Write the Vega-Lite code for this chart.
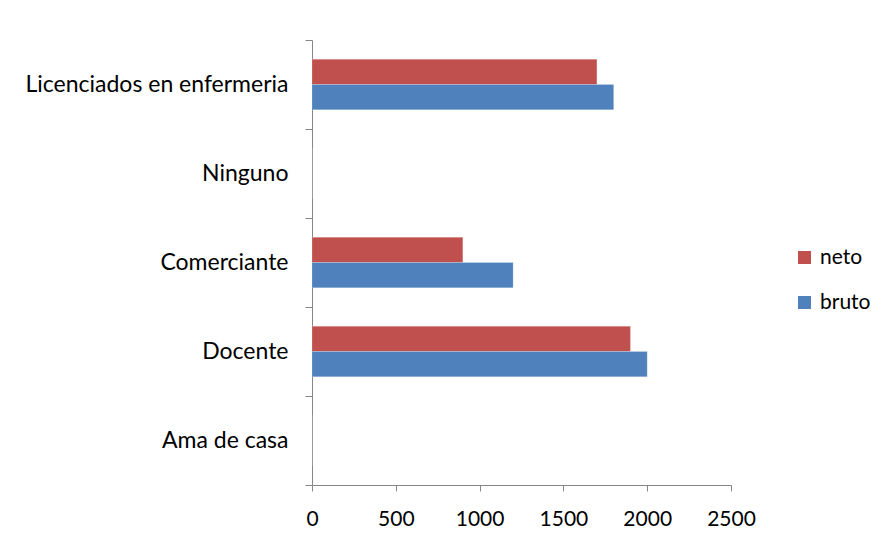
{
  "$schema": "https://vega.github.io/schema/vega-lite/v6.json",
  "autosize": {"type": "none"},
  "width": 419,
  "height": 445,
  "padding": {"left": 312, "top": 40, "right": 152, "bottom": 55},
  "background": "white",
  "config": {
    "view": {"stroke": null},
    "font": "Lato",
    "axis": {"labelFont": "Lato", "labelColor": "#000000", "domainColor": "#868686", "tickColor": "#868686", "grid": false, "title": null}
  },
  "data": {
    "values": [
      {"ocupacion": "Licenciados en enfermeria", "serie": "neto", "valor": 1700},
      {"ocupacion": "Licenciados en enfermeria", "serie": "bruto", "valor": 1800},
      {"ocupacion": "Ninguno", "serie": "neto", "valor": 0},
      {"ocupacion": "Ninguno", "serie": "bruto", "valor": 0},
      {"ocupacion": "Comerciante", "serie": "neto", "valor": 900},
      {"ocupacion": "Comerciante", "serie": "bruto", "valor": 1200},
      {"ocupacion": "Docente", "serie": "neto", "valor": 1900},
      {"ocupacion": "Docente", "serie": "bruto", "valor": 2000},
      {"ocupacion": "Ama de casa", "serie": "neto", "valor": 0},
      {"ocupacion": "Ama de casa", "serie": "bruto", "valor": 0}
    ]
  },
  "mark": {"type": "bar", "stroke": "white", "strokeOpacity": 0.4, "strokeWidth": 0.5},
  "encoding": {
    "y": {
      "field": "ocupacion",
      "type": "nominal",
      "sort": ["Licenciados en enfermeria", "Ninguno", "Comerciante", "Docente", "Ama de casa"],
      "scale": {"paddingInner": 0, "paddingOuter": 0},
      "axis": {"tickBand": "extent", "tickSize": 7, "labelPadding": 17, "labelFontSize": 23, "labelLimit": 400, "labelDy": 2}
    },
    "yOffset": {
      "field": "serie",
      "type": "nominal",
      "sort": ["neto", "bruto"],
      "scale": {"paddingInner": 0, "paddingOuter": 0.76}
    },
    "x": {
      "field": "valor",
      "type": "quantitative",
      "scale": {"domain": [0, 2500], "nice": false},
      "axis": {"values": [0, 500, 1000, 1500, 2000, 2500], "format": "d", "tickSize": 6, "labelPadding": 17, "labelFontSize": 21, "labelFlush": false, "labelOverlap": false}
    },
    "color": {
      "field": "serie",
      "type": "nominal",
      "sort": ["neto", "bruto"],
      "scale": {"domain": ["neto", "bruto"], "range": ["#C0504D", "#4F81BD"]},
      "legend": {
        "title": null,
        "orient": "none",
        "legendX": 482,
        "legendY": 207,
        "symbolType": "square",
        "symbolSize": 169,
        "symbolStrokeWidth": 0,
        "labelFontSize": 21,
        "labelFont": "Lato",
        "labelColor": "#000000",
        "rowPadding": 23,
        "labelOffset": 5
      }
    }
  }
}
